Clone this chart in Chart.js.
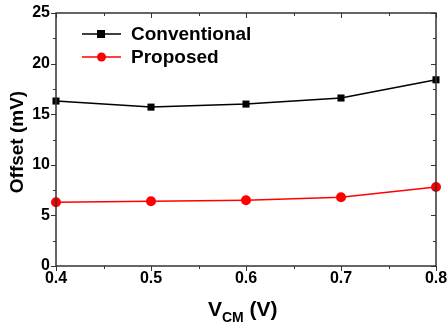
<!DOCTYPE html>
<html lang="en">
<head>
    <meta charset="UTF-8">
    <title>Offset vs VCM</title>
    <style>
        body { margin: 0; background: #fff; }
        #myChart { width: 448px !important; height: 330px !important; }
    </style>
    <script src="https://cdn.jsdelivr.net/npm/chart.js"></script>
</head>
<body>
    <canvas id="myChart" width="448" height="330"></canvas>
    <script>
        // data
        const vcm = [0.4, 0.5, 0.6, 0.7, 0.8];
        const conventional = [16.3, 15.7, 16.0, 16.6, 18.4];
        const proposed = [6.3, 6.4, 6.5, 6.8, 7.8];
        const xTicks = [0.4, 0.5, 0.6, 0.7, 0.8];
        const yTicks = [0, 5, 10, 15, 20, 25];

        const FONT = 'Arial, "Liberation Sans", sans-serif';

        // box frame, inward ticks, legend and axis titles
        const framePlugin = {
            id: 'frame',
            afterDraw(chart) {
                const ctx = chart.ctx;
                const a = chart.chartArea;
                const xs = chart.scales.x, ys = chart.scales.y;
                ctx.save();
                ctx.strokeStyle = '#333';
                ctx.lineWidth = 1.5;
                ctx.strokeRect(a.left, a.top, a.right - a.left, a.bottom - a.top);

                ctx.lineWidth = 1;
                // x ticks (major + minor), bottom and top
                for (let v = 0.4; v <= 0.8001; v += 0.05) {
                    const px = Math.round(xs.getPixelForValue(v)) + 0.5;
                    const major = Math.abs(v * 10 - Math.round(v * 10)) < 1e-6;
                    const len = major ? 5 : 3;
                    ctx.beginPath();
                    ctx.moveTo(px, a.bottom); ctx.lineTo(px, a.bottom + len);
                    ctx.moveTo(px, a.top); ctx.lineTo(px, a.top + len);
                    ctx.stroke();
                }
                // y ticks, left and right
                for (let v = 0; v <= 25; v += 2.5) {
                    const py = Math.round(ys.getPixelForValue(v)) + 0.5;
                    const major = v % 5 === 0;
                    const len = major ? 5 : 3;
                    ctx.beginPath();
                    ctx.moveTo(a.left, py); ctx.lineTo(a.left - len, py);
                    ctx.moveTo(a.right, py); ctx.lineTo(a.right - len, py);
                    ctx.stroke();
                }

                // legend
                ctx.font = 'bold 19px ' + FONT;
                ctx.textBaseline = 'middle';
                chart.data.datasets.forEach((ds, i) => {
                    const y = 34 + i * 23;
                    ctx.strokeStyle = ds.borderColor;
                    ctx.lineWidth = 1.5;
                    ctx.beginPath();
                    ctx.moveTo(82, y); ctx.lineTo(121, y);
                    ctx.stroke();
                    ctx.fillStyle = ds.backgroundColor;
                    if (ds.pointStyle === 'rect') {
                        ctx.fillRect(97, y - 4, 8, 8);
                    } else {
                        ctx.beginPath();
                        ctx.arc(101.5, y, 4.5, 0, Math.PI * 2);
                        ctx.fill();
                    }
                    ctx.fillStyle = '#000';
                    ctx.textAlign = 'left';
                    ctx.fillText(ds.label, 131, y + 1);
                });

                // y title
                ctx.save();
                ctx.translate(18, 142);
                ctx.rotate(-Math.PI / 2);
                ctx.font = 'bold 19px ' + FONT;
                ctx.textAlign = 'center';
                ctx.textBaseline = 'middle';
                ctx.fillStyle = '#000';
                ctx.fillText('Offset (mV)', 0, 0);
                ctx.restore();

                // x title with subscript
                ctx.fillStyle = '#000';
                ctx.textAlign = 'left';
                ctx.textBaseline = 'alphabetic';
                const big = 'bold 21px ' + FONT, small = 'bold 14px ' + FONT;
                ctx.font = big; const wV = ctx.measureText('V').width;
                ctx.font = small; const wCM = ctx.measureText('CM').width;
                let x0 = 208;
                const yb = 316;
                ctx.font = big; ctx.fillText('V', x0, yb);
                ctx.font = small; ctx.fillText('CM', x0 + wV, yb + 6);
                ctx.font = big; ctx.fillText(' (V)', x0 + wV + wCM, yb);
                ctx.restore();
            }
        };

        const ctx = document.getElementById('myChart').getContext('2d');
        new Chart(ctx, {
            type: 'line',
            data: {
                datasets: [{
                    label: 'Conventional',
                    data: vcm.map((x, i) => ({ x: x, y: conventional[i] })),
                    borderColor: '#000',
                    backgroundColor: '#000',
                    borderWidth: 1.5,
                    pointStyle: 'rect',
                    pointRadius: 5,
                    pointBorderWidth: 0
                }, {
                    label: 'Proposed',
                    data: vcm.map((x, i) => ({ x: x, y: proposed[i] })),
                    borderColor: '#ff0000',
                    backgroundColor: '#ff0000',
                    borderWidth: 1.5,
                    pointStyle: 'circle',
                    pointRadius: 5,
                    pointBorderWidth: 0
                }]
            },
            options: {
                responsive: false,
                animation: false,
                clip: false,
                layout: { padding: { top: 13, right: 12, left: 0, bottom: 0 } },
                scales: {
                    x: {
                        type: 'linear',
                        min: 0.4, max: 0.8,
                        afterBuildTicks: s => { s.ticks = xTicks.map(v => ({ value: v })); },
                        afterFit: s => { s.height = 64; s.paddingLeft = 0; s.paddingRight = 0; },
                        grid: { display: false, drawTicks: false },
                        border: { display: false },
                        ticks: {
                            color: '#000',
                            font: { family: FONT, size: 16, weight: 'bold' },
                            padding: 3,
                            maxRotation: 0,
                            callback: v => v.toFixed(1)
                        }
                    },
                    y: {
                        min: 0, max: 25,
                        afterBuildTicks: s => { s.ticks = yTicks.map(v => ({ value: v })); },
                        afterFit: s => { s.width = 56; s.paddingTop = 0; s.paddingBottom = 0; },
                        grid: { display: false, drawTicks: false },
                        border: { display: false },
                        ticks: {
                            color: '#000',
                            font: { family: FONT, size: 16, weight: 'bold' },
                            padding: 6
                        }
                    }
                },
                plugins: {
                    legend: { display: false },
                    tooltip: { enabled: false }
                }
            },
            plugins: [framePlugin]
        });
    </script>
</body>
</html>
